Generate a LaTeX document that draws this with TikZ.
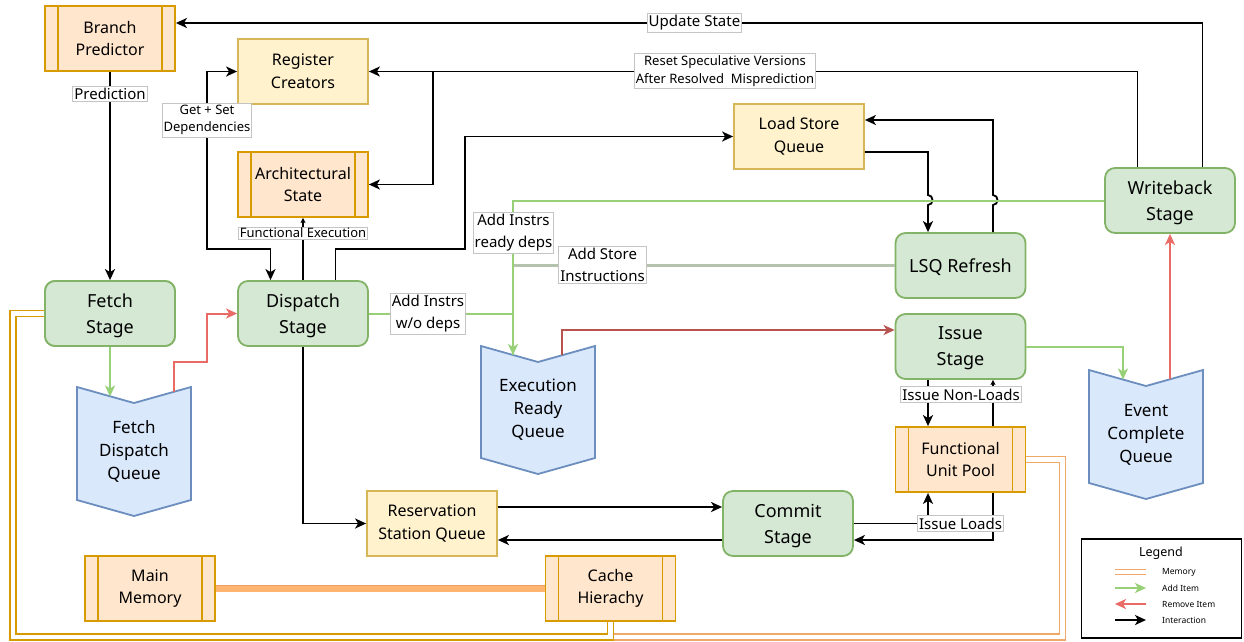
\documentclass[tikz,border=0pt]{standalone}
\usepackage{fontspec}
\setmainfont{Noto Sans}
\usetikzlibrary{arrows.meta,calc}
\definecolor{gfill}{HTML}{D5E8D4}
\definecolor{gline}{HTML}{82B366}
\definecolor{yfill}{HTML}{FFF2CC}
\definecolor{yline}{HTML}{D6B656}
\definecolor{ofill}{HTML}{FFE6CC}
\definecolor{oline}{HTML}{D79B00}
\definecolor{bfill}{HTML}{DAE8FC}
\definecolor{bline}{HTML}{6C8EBF}
\definecolor{addc}{HTML}{97D077}
\definecolor{remc}{HTML}{EA6B66}
\definecolor{remd}{HTML}{B85450}
\definecolor{storec}{HTML}{B5C2AE}
\definecolor{memc}{HTML}{F0A868}
\definecolor{membar}{HTML}{FFB570}
\definecolor{membord}{HTML}{E8A060}
\definecolor{lblb}{HTML}{C4C4C4}
\newcommand\drawqueue[4]{\draw[draw=bline,fill=bfill,line width=1.8pt,line join=miter] (#1,#3) -- ({(#1+#2)/2},{#3+16}) -- (#2,#3) -- (#2,{#4-16}) -- ({(#1+#2)/2},#4) -- (#1,{#4-16}) -- cycle;}
\tikzset{
  stagebox/.style={draw=gline, fill=gfill, rounded corners=10pt, line width=1.8pt, minimum width=130pt, minimum height=65pt, align=center, inner sep=0pt, text depth=0pt, font=\fontsize{18}{26}\selectfont},
  ybox/.style={draw=yline, fill=yfill, line width=1.8pt, minimum width=130pt, minimum height=65pt, align=center, inner sep=0pt, font=\fontsize{16}{23}\selectfont},
  procbox/.style={draw=oline, fill=ofill, line width=1.8pt, minimum width=130pt, minimum height=65pt, align=center, inner sep=0pt, font=\fontsize{16}{22.5}\selectfont,
    path picture={\draw[oline,line width=1.8pt] ([xshift=13pt]path picture bounding box.north west) -- ([xshift=13pt]path picture bounding box.south west) ([xshift=-13pt]path picture bounding box.north east) -- ([xshift=-13pt]path picture bounding box.south east);}},
  qtext/.style={align=center, inner sep=0pt, font=\fontsize{17}{23}\selectfont},
  lbl/.style={fill=white, draw=lblb, line width=0.8pt, inner xsep=1.5pt, inner ysep=2pt, align=center, font=\fontsize{15}{22}\selectfont},
  slbl/.style={lbl, font=\fontsize{13}{17.5}\selectfont},
  conn/.style={draw=black, line width=1.8pt},
  arr/.style={-{Stealth[length=11pt,width=10pt,inset=3pt]}},
  barr/.style={{Stealth[length=11pt,width=10pt,inset=3pt]}-{Stealth[length=11pt,width=10pt,inset=3pt]}},
  smallarr/.style={-{Stealth[length=5pt,width=5pt,inset=1pt]}},
  gconn/.style={draw=addc, line width=2pt, -{Stealth[length=11pt,width=10pt,inset=3pt,fill=addc]}},
  gline/.style={draw=addc, line width=2pt},
  rconn/.style={draw=remc, line width=2pt, -{Stealth[length=11pt,width=10pt,inset=3pt,fill=remc]}},
  dconn/.style={draw=remd, line width=2pt, -{Stealth[length=11pt,width=10pt,inset=3pt,fill=remd]}},
  sline/.style={draw=storec, line width=2.2pt},
  memlink/.style={double=white, double distance=4.2pt, line width=1.7pt, line join=miter},
  legtxt/.style={anchor=west, inner sep=0pt, font=\fontsize{8.5}{10}\selectfont},
}
\begin{document}
\begin{tikzpicture}[x=1pt,y=-1pt]
\useasboundingbox[fill=white] (0,0) rectangle (1244,641);

% nodes that carry memory links
\node[stagebox] (fetch) at (110,313.5) {Fetch\\Stage};
\node[procbox] (fu) at (960.5,459.5) {Functional\\Unit Pool};
\node[procbox] (cache) at (610.5,588.5) {Cache\\Hierachy};
\node[procbox] (mm) at (150,588.5) {Main\\Memory};
\coordinate (fl1) at (13,313.5);
\coordinate (fl2) at (13,637);
\coordinate (cl) at (610.5,637);
\coordinate (ul1) at (1062.5,459.5);
\coordinate (ul2) at (1062.5,637);
\draw[memlink, draw=memc] (fu.east) -- (ul1) -- (ul2) -- (cl) -- (cache.south);
\draw[memlink, draw=oline] (fetch.west) -- (fl1) -- (fl2) -- (cl) -- (cache.south);
\draw[draw=membord, double=membar, double distance=6pt, line width=0.9pt] (mm.east) -- (cache.west);
\node[procbox] at (cache) {Cache\\Hierachy};
\node[stagebox] at (fetch) {Fetch\\Stage};
\node[procbox] at (fu) {Functional\\Unit Pool};

% nodes
\node[procbox] (bp) at (110,38.5) {Branch\\Predictor};
\node[ybox] (rc) at (303,71.5) {Register\\Creators};
\node[procbox] (as) at (303,184.5) {Architectural\\State};
\node[stagebox] (disp) at (303,313.5) {Dispatch\\Stage};
\node[ybox] (lsq) at (799,136.5) {Load Store\\Queue};
\node[stagebox] (wb) at (1170,200.5) {Writeback\\Stage};
\node[stagebox] (lsqr) at (960.5,265.5) {LSQ Refresh};
\node[stagebox] (issue) at (960.5,346.5) {Issue\\Stage};
\node[stagebox] (commit) at (788,523.5) {Commit\\Stage};
\node[ybox] (rsq) at (432,523.5) {Reservation\\Station Queue};

\drawqueue{77}{191}{387}{516}
\node[qtext] (fdq) at (134,451.5) {Fetch\\Dispatch\\Queue};
\drawqueue{481}{595}{346}{474}
\node[qtext] (erq) at (538,410) {Execution\\Ready\\Queue};
\drawqueue{1089}{1203}{370}{499}
\node[qtext] (ecq) at (1146,434.5) {Event\\Complete\\Queue};

% queue edge points
\coordinate (fdqin) at (110,396.5);
\coordinate (fdqout) at (174,392);
\coordinate (erqin) at (513,355);
\coordinate (erqout) at (562,355.3);
\coordinate (ecqin) at (1123,379.5);
\coordinate (ecqout) at (1170,379.3);

% black connectors
\draw[conn,arr] ([xshift=32.5pt]wb.north) |- ([yshift=15.5pt]bp.east);
\draw[conn,arr] ([xshift=-32.5pt]wb.north) |- (rc.east);
\coordinate (split) at (433,71.5);
\draw[conn,arr] (split) |- (as.east);
\draw[conn,barr] (rc.west) -| (207,249) -| ([xshift=-32.5pt]disp.north);
\draw[conn,smallarr] (disp.north) -- (as.south);
\draw[conn,arr] ([xshift=32.5pt]disp.north) |- (465,249) |- (lsq.west);
\draw[conn,arr] (bp.south) -- (fetch.north);
\draw[conn,arr] ([yshift=-15.5pt]lsq.east) -- (928,152) -- (928,195) .. controls (934,195) and (934,205) .. (928,205) -- ([xshift=-32.5pt]lsqr.north);
\draw[conn,arr] ([xshift=32.5pt]lsqr.north) -- (993,205) .. controls (999,205) and (999,195) .. (993,195) |- ([yshift=16.5pt]lsq.east);
\draw[conn,arr] ([xshift=-32.5pt]issue.south) -- ([xshift=-32.5pt]fu.north);
\draw[conn,smallarr] ([xshift=32.5pt]fu.north) -- ([xshift=32.5pt]issue.south);
\draw[conn,arr] (commit.east) -| ([xshift=-32.5pt]fu.south);
\draw[conn,arr] ([xshift=32.5pt]fu.south) |- ([yshift=-16.5pt]commit.east);
\draw[conn,arr] (disp.south) |- (rsq.west);
\draw[conn,arr] ([yshift=16.5pt]rsq.east) -- ([yshift=16.5pt]commit.west);
\draw[conn,arr] ([yshift=-16.5pt]commit.west) -- ([yshift=-16.5pt]rsq.east);

% coloured connectors
\draw[sline] (lsqr.west) -- (513,265.5);
\draw[gline] (disp.east) -| (erqin);
\draw[gconn] (wb.west) -| (erqin);
\draw[gconn] (fetch.south) -- (fdqin);
\draw[rconn] (fdqout) |- (207,362) |- (disp.west);
\draw[dconn] (erqout) |- ([yshift=16.5pt]issue.west);
\draw[gconn] (issue.east) -| (ecqin);
\draw[rconn] (ecqout) -- (wb.south);

% labels
\node[lbl] (lus) at (694.5,23) {Update State};
\node[slbl] (lrs) at (725,71) {Reset Speculative Versions\\After Resolved\ \ Misprediction};
\node[slbl] (lgs) at (207,120) {Get + Set\\Dependencies};
\node[slbl, inner ysep=1pt] (lfe) at (303,233) {Functional Execution};
\node[lbl] (lpr) at (110,94) {Prediction};
\node[lbl] (lwo) at (428,313.5) {Add Instrs\\w/o deps};
\node[lbl] (lrd) at (513.5,232.5) {Add Instrs\\ready deps};
\node[lbl] (lst) at (602.5,265) {Add Store\\Instructions};
\node[lbl] (lnl) at (961,394.5) {Issue Non-Loads};
\node[lbl] (lil) at (960.5,523.5) {Issue Loads};

% legend
\node[draw=black, line width=1.6pt, minimum width=160pt, minimum height=99pt, inner sep=0pt] (legend) at (1161.5,588.5) {};
\node[inner sep=0pt, font=\fontsize{12.5}{15}\selectfont] (legt) at (1161,553) {Legend};
\coordinate (lm1) at (1115,572);
\coordinate (lm2) at (1146,572);
\draw[draw=memc, double=white, double distance=4.6pt, line width=1.1pt] (lm1) -- (lm2);
\node[legtxt] (lmt) at (1162,572) {Memory};
\coordinate (la1) at (1115,588);
\coordinate (la2) at (1146,588);
\draw[gconn] (la1) -- (la2);
\node[legtxt] (lat) at (1162,588) {Add Item};
\coordinate (lr1) at (1146,604);
\coordinate (lr2) at (1115,604);
\draw[rconn] (lr1) -- (lr2);
\node[legtxt] (lrt) at (1162,604) {Remove Item};
\coordinate (li1) at (1115,620);
\coordinate (li2) at (1146,620);
\draw[conn,arr] (li1) -- (li2);
\node[legtxt] (lit) at (1162,620) {Interaction};
\end{tikzpicture}
\end{document}
